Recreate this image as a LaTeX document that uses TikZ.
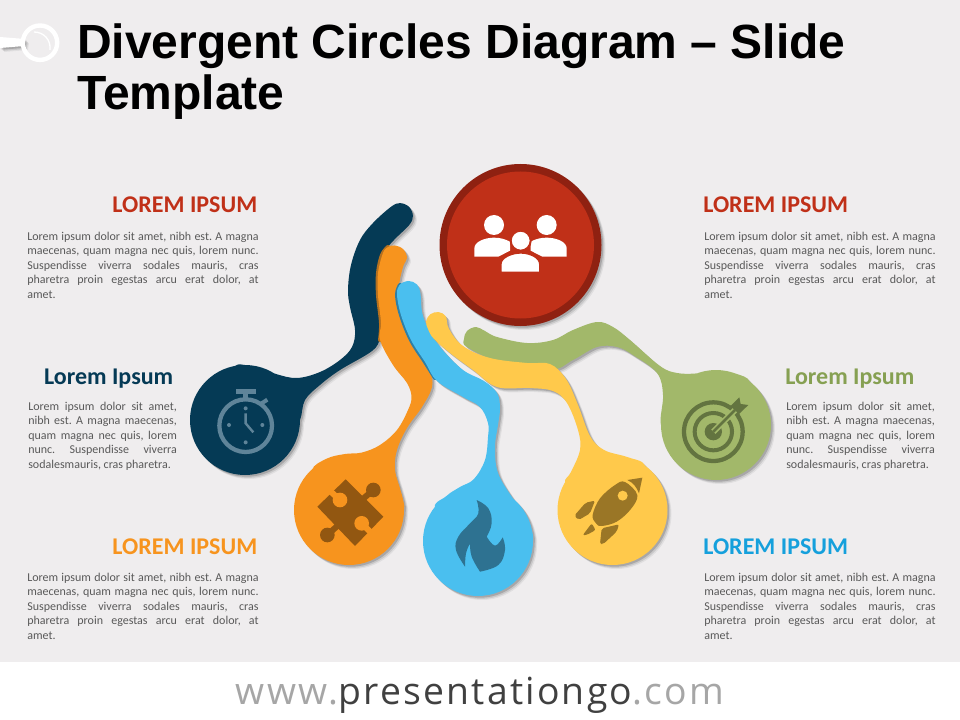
\documentclass[tikz,border=0pt]{standalone}
\usepackage{fontspec}
\setmainfont{Carlito}
\newfontfamily\titlefont{Liberation Sans}
\newfontfamily\footfont[LetterSpace=6]{Open Sans}
\definecolor{bgcol}{HTML}{EFEDEE}
\definecolor{redcol}{HTML}{C03018}
\definecolor{reddark}{HTML}{8F2111}
\definecolor{navycol}{HTML}{053A55}
\definecolor{navyicon}{HTML}{5F8499}
\definecolor{orangecol}{HTML}{F7941E}
\definecolor{orangeicon}{HTML}{925711}
\definecolor{orangerim}{HTML}{B5701F}
\definecolor{bluecol}{HTML}{4ABFEF}
\definecolor{blueicon}{HTML}{2E7291}
\definecolor{bluerim}{HTML}{2F7FA5}
\definecolor{bluehead}{HTML}{15A0DC}
\definecolor{yellowcol}{HTML}{FFC94B}
\definecolor{yellowicon}{HTML}{9A7626}
\definecolor{greencol}{HTML}{A2B86A}
\definecolor{greenicon}{HTML}{637440}
\definecolor{greenhead}{HTML}{86A052}
\definecolor{bodycol}{HTML}{595959}
\tikzset{
  softshadow/.style={
    preaction={transform canvas={shift={(3pt,-3pt)}},fill=black,opacity=.06},
    preaction={transform canvas={shift={(2.2pt,-2.2pt)}},fill=black,opacity=.10},
    preaction={transform canvas={shift={(1.3pt,-1.3pt)}},fill=black,opacity=.16}},
  headleft/.style={anchor=base west,inner sep=0pt,font=\fontsize{18}{21}\selectfont\bfseries},
  headright/.style={anchor=base east,inner sep=0pt,font=\fontsize{18}{21}\selectfont\bfseries},
  bodytext/.style={anchor=north west,inner sep=0pt,align=justify,text=bodycol,
    font=\fontsize{9}{10.9}\selectfont\frenchspacing},
  longbox/.style={bodytext,text width=173.5pt},
  shortbox/.style={bodytext,text width=111.5pt},
  titletext/.style={anchor=base west,inner sep=0pt,font=\fontsize{36}{42}\selectfont\titlefont\bfseries},
  iconscope/.style={x=0.25pt,y=-0.25pt}
}
\newcommand\longtext{Lorem ipsum dolor sit amet, nibh est. A magna\linebreak
  maecenas, quam magna nec quis, lorem nunc.\linebreak
  Suspendisse viverra sodales mauris, cras\linebreak
  pharetra proin egestas arcu erat dolor, at\linebreak amet.}
\newcommand\shorttext{Lorem ipsum dolor sit amet,\linebreak
  nibh est. A magna maecenas,\linebreak
  quam magna nec quis, lorem\linebreak
  nunc. Suspendisse viverra\linebreak
  sodalesmauris, cras pharetra.}
\begin{document}
\begin{tikzpicture}[x=0.75pt,y=-0.75pt]
  \useasboundingbox (0,0) rectangle (960,720);
  \fill[bgcol] (0,0) rectangle (960,662);
  \fill[white] (0,662) rectangle (960,720);

  % corner mark
  \fill[white,softshadow] (0,37) -- (25,39) -- (24,46) -- (0,48) -- cycle;
  \draw[white,line width=3.3pt] (40,42.7) circle (17.2);
  \draw[white,line width=1pt] (34,32) .. controls (44,32) and (51,40) .. (50,50);

  % title
  \node[titletext] (title) at (77,59) {Divergent Circles Diagram – Slide};
  \node[titletext] (title2) at (77,110) {Template};

  % arms, back to front
  \path[fill=greencol,softshadow] plot[smooth cycle,tension=0.6] coordinates {
    (485,331) (497,337) (527,343) (553,340) (573,330) (597,322) (613,327)
    (630,340) (660,366) (677,373) (697,373.4) (716,370) (735,373.4) (750,382) (745,405) (716,425) (675,435)
    (661,425) (663,395) (657,373) (633,355) (617,347) (597,347) (573,360) (550,370)
    (500,362) (467,347) (464,339) (467,331) (476,327)}
    (771,425) arc[start angle=0,end angle=360,radius=55];
  \path[fill=navycol,softshadow] plot[smooth cycle,tension=0.6] coordinates {
    (409.1,225.1) (394,240) (383,254) (378,275) (378,300) (381,322) (380,338) (372,351)
    (340,370) (320,385) (305,400) (300,420) (290,432) (245,420) (220,382) (235,366) (245,365)
    (262,368) (276,374) (297,378) (320,372) (340,360) (352,347) (355,330) (350,307)
    (348,290) (351,265) (360,240) (373,223) (390.9,206.9) (400,203.1) (409.1,206.9) (412.9,216)}
    (300,420) arc[start angle=0,end angle=360,radius=55];
  \draw[orangerim,line width=3pt,line cap=round] plot[smooth,tension=0.6] coordinates {
    (388,247) (382,255) (378,273) (378,295) (381,323) (380,340)};
  \path[fill=orangecol,softshadow] plot[smooth cycle,tension=0.6] coordinates {
    (403,267) (399,287) (401,312) (410,337) (421,353) (430,370) (432,387) (422,407)
    (407,428) (397,450) (395,470) (400.7,491) (404,510) (392,518) (349,510) (320,490)
    (312,470) (327,458.5) (345,454) (362,452.5) (380,445) (397,430) (408,410) (411.5,397) (407,383) (393,365)
    (380,340) (381,323) (378,295) (378,273) (383,253) (388,247) (394.5,245.5) (403,249) (407,258)}
    (404,510) arc[start angle=0,end angle=360,radius=55];
  \draw[bluerim,line width=3pt,line cap=round] plot[smooth,tension=0.6] coordinates {
    (400,285) (397,295) (401,315) (411,340) (425,362) (435,378)};
  \path[fill=bluecol,softshadow] plot[smooth cycle,tension=0.6] coordinates {
    (420.5,294) (422,312) (428,328) (441,348) (463,370) (484,381) (497,393) (500,408)
    (498,425) (495,447) (498,473) (513,498.5) (527,516) (533,541) (520,548) (478,541)
    (436,510) (446.5,496) (460,487) (474,479) (485,460) (488,437) (488,423) (480,407)
    (463,397) (437,381) (425,362) (411,340) (401,315) (397,295) (399.5,285) (408.5,281) (417,284.5)}
    (533,541) arc[start angle=0,end angle=360,radius=55];
  \path[fill=yellowcol,softshadow] plot[smooth cycle,tension=0.6] coordinates {
    (449,329) (463,346) (490,358) (527,363) (550,364) (566,379) (578,405) (590,436)
    (604,450) (627,457) (645,465.5) (640,490) (612.5,510) (578,500) (565,483) (571,472)
    (580,450) (578,430) (567,403) (553,391) (530,388) (497,387) (473,370) (450,353)
    (434,339) (428.2,329.6) (426.1,321.4) (430.4,314.2) (438.6,312.1) (445.8,316.4)}
    (667.5,510) arc[start angle=0,end angle=360,radius=55];

  % red disc
  \fill[reddark,softshadow] (520.5,245) circle (81);
  \fill[redcol] (520.5,245) circle (73.5);

  % people
  \begin{scope}[shift={(430,160)},iconscope]
    \fill[white] (192,195) circle (30);
    \fill[white] (350,195) circle (30);
    \fill[white] (133,290) -- (133,265) .. controls (133,245) and (165,233) .. (192,233)
      .. controls (210,233) and (225,237) .. (240,245) -- (240,272) -- (205,290) -- cycle;
    \fill[white] (410,290) -- (410,265) .. controls (410,245) and (378,233) .. (350,233)
      .. controls (332,233) and (317,237) .. (302,245) -- (302,272) -- (337,290) -- cycle;
    \filldraw[fill=white,draw=redcol,line width=1.5pt] (272,242) circle (30);
    \filldraw[fill=white,draw=redcol,line width=1.5pt] (212,338) -- (212,312)
      .. controls (212,292) and (245,278) .. (272,278)
      .. controls (300,278) and (330,292) .. (330,312) -- (330,338) -- cycle;
  \end{scope}

  % stopwatch
  \begin{scope}[shift={(180,360)},iconscope]
    \draw[navyicon,line width=3.2pt] (197,197) circle (79);
    \fill[navyicon] (167,87) rectangle (227,102);
    \fill[navyicon] (190,102) rectangle (205,115);
    \draw[navyicon,line width=3pt] (245,130) -- (262,119);
    \draw[navyicon,line width=1.8pt] (197,160) -- (197,190) -- (220,217);
    \fill[navyicon] (197,145) circle (6);
    \fill[navyicon] (247,195) circle (6);
    \fill[navyicon] (197,247) circle (6);
    \fill[navyicon] (147,195) circle (6);
  \end{scope}

  % puzzle piece
  \begin{scope}[shift={(180,360)},iconscope]
    \fill[orangeicon] (412,440) -- (497,358) -- (610,470) -- (525,558) -- cycle;
    \fill[orangeicon] (580,390) circle (22);
    \fill[orangeicon] (442,525) circle (22);
    \draw[orangeicon,line width=4.5pt] (580,390) -- (545,420);
    \draw[orangeicon,line width=4.5pt] (442,525) -- (475,495);
    \fill[orangecol] (480,420) circle (22);
    \fill[orangecol] (545,490) circle (22);
    \draw[orangecol,line width=4.5pt] (480,420) -- (450,393);
    \draw[orangecol,line width=4.5pt] (545,490) -- (574,519);
  \end{scope}

  % flame and rocket
  \begin{scope}[shift={(420,380)},iconscope]
    \fill[blueicon] plot[smooth,tension=0.7] coordinates {(170,360) (205,385) (215,430) (200,470)}
      -- plot[smooth,tension=0.7] coordinates {(200,470) (225,497) (248,472)}
      -- plot[smooth,tension=0.7] coordinates {(248,472) (255,510) (235,555) (180,575)}
      -- plot[smooth,tension=0.7] coordinates {(180,575) (155,530) (150,490)}
      -- plot[smooth,tension=0.7] coordinates {(150,490) (138,520) (135,560)}
      -- plot[smooth,tension=0.7] coordinates {(135,560) (108,510) (115,470) (150,430) (175,400) (170,360)} -- cycle;
    \fill[yellowicon] plot[smooth cycle,tension=0.6] coordinates {
      (615,306) (652,345) (632,388) (590,425) (545,438) (528,430) (518,405) (540,355) (585,315)};
    \fill[yellowcol] (608,347) circle (15);
    \fill[yellowicon] (622,300) -- (667,293) -- (657,340) .. controls (650,322) and (640,308) .. cycle;
    \fill[yellowicon,rounded corners=1.5pt] (463,407) -- (497,368) -- (525,362) -- (510,400) -- (476,420) -- cycle;
    \fill[yellowicon,rounded corners=1.5pt] (540,492) -- (545,445) -- (597,433) -- (590,455) -- (550,492) -- cycle;
    \fill[yellowicon,rounded corners=1.5pt] (488,466) -- (515,430) -- (527,450) -- (500,465) -- cycle;
  \end{scope}

  % target
  \begin{scope}[shift={(420,380)},iconscope]
    \draw[greenicon,line width=3.2pt] (880,155) circle (88);
    \draw[greenicon,line width=3pt] (880,155) circle (56);
    \fill[greenicon] (880,155) circle (26);
    \draw[greencol,line width=4.5pt] (880,155) -- (955,80);
    \draw[greenicon,line width=2pt] (880,155) -- (945,90);
    \fill[greenicon] (932,78) -- (958,52) -- (962,72) -- (985,75) -- (957,102) -- (942,88) -- cycle;
  \end{scope}

  % labels
  \node[headright,text=redcol] (headred) at (257.5,213) {LOREM IPSUM};
  \node[longbox] (textred) at (27,231.5) {\longtext};
  \node[headright,text=navycol] (headnavy) at (173.5,384) {Lorem Ipsum};
  \node[shortbox] (textnavy) at (28,401.5) {\shorttext};
  \node[headright,text=orangecol] (headorange) at (257.5,554) {LOREM IPSUM};
  \node[longbox] (textorange) at (27,572.5) {\longtext};
  \node[headleft,text=redcol] (headred2) at (703,213) {LOREM IPSUM};
  \node[longbox] (textred2) at (704,231.5) {\longtext};
  \node[headleft,text=greenhead] (headgreen) at (785,384) {Lorem Ipsum};
  \node[shortbox] (textgreen) at (786,401.5) {\shorttext};
  \node[headleft,text=bluehead] (headblue) at (703,554) {LOREM IPSUM};
  \node[longbox] (textblue) at (704,572.5) {\longtext};

  % footer
  \node[anchor=base,inner sep=0pt,font=\fontsize{28}{32}\selectfont\footfont] (weblink) at (480,704)
    {\textcolor[HTML]{A6A6A6}{www.}\textcolor[HTML]{404040}{presentationgo}\textcolor[HTML]{A6A6A6}{.com}};
\end{tikzpicture}
\end{document}
